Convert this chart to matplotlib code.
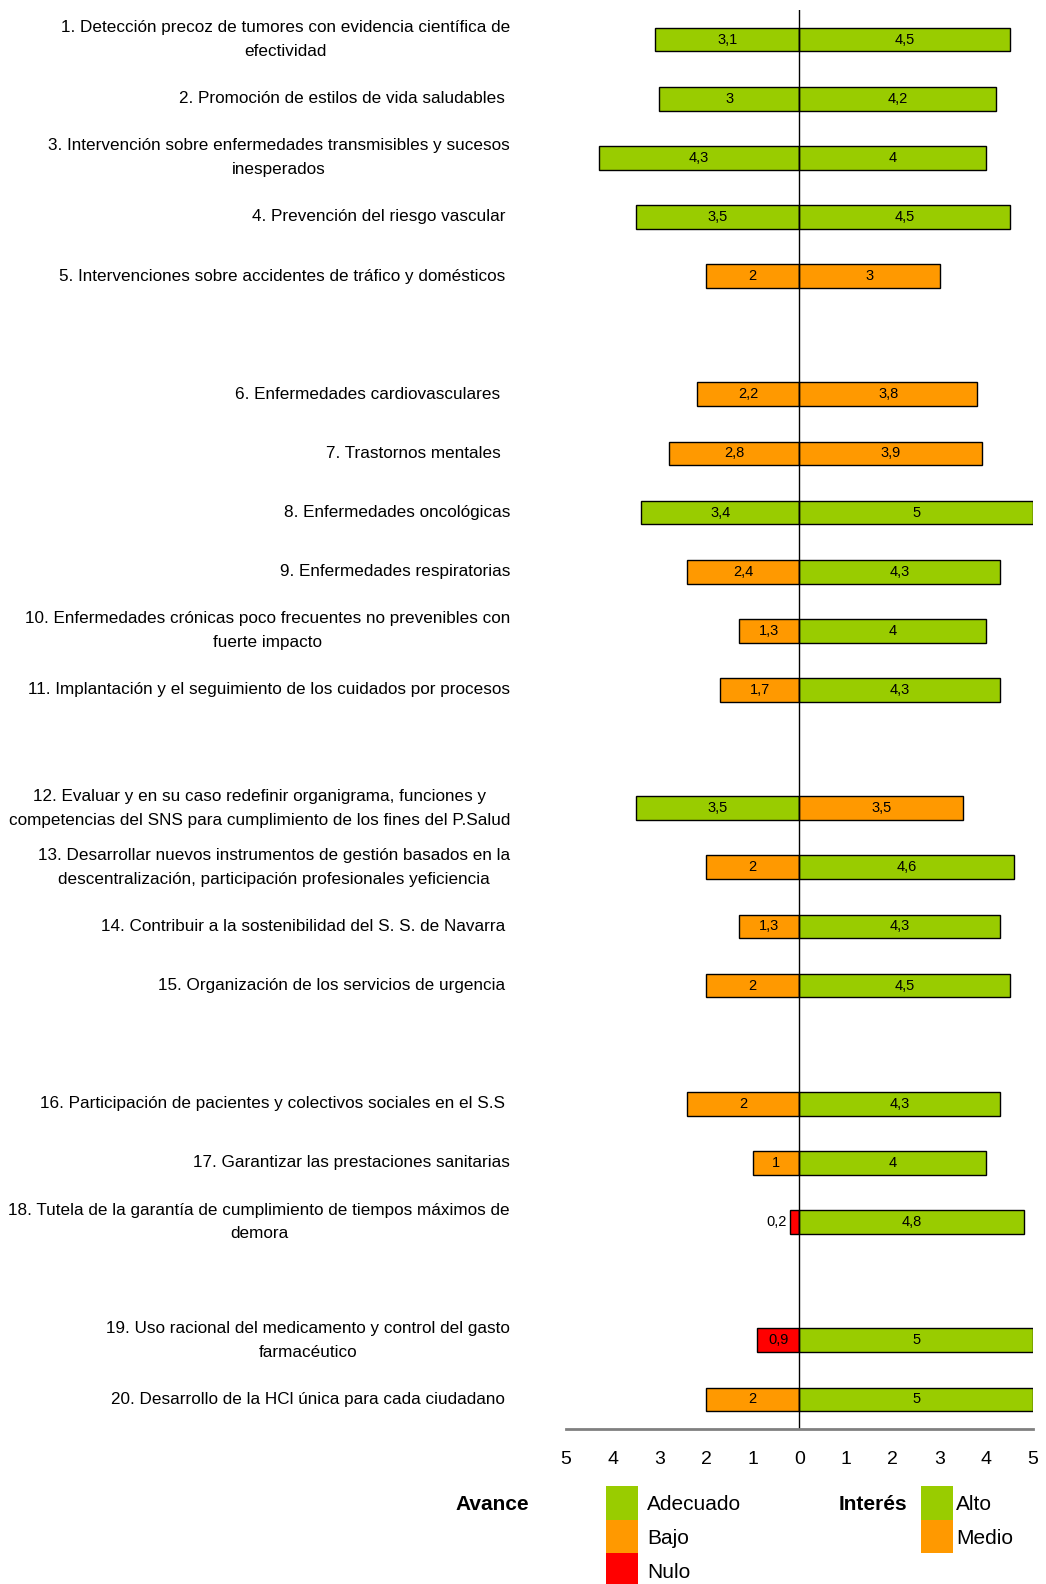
import numpy as np
import matplotlib
matplotlib.use("Agg")
import matplotlib.pyplot as plt
from matplotlib.patches import Rectangle
from matplotlib.transforms import blended_transform_factory

plt.rcParams['font.family'] = ['Liberation Sans', 'DejaVu Sans']

# Data
labels = [
    "1. Detección precoz de tumores con evidencia científica de\nefectividad",
    "2. Promoción de estilos de vida saludables ",
    "3. Intervención sobre enfermedades transmisibles y sucesos\ninesperados",
    "4. Prevención del riesgo vascular ",
    "5. Intervenciones sobre accidentes de tráfico y domésticos ",
    "6. Enfermedades cardiovasculares  ",
    "7. Trastornos mentales  ",
    "8. Enfermedades oncológicas",
    "9. Enfermedades respiratorias",
    "10. Enfermedades crónicas poco frecuentes no prevenibles con\nfuerte impacto",
    "11. Implantación y el seguimiento de los cuidados por procesos",
    "12. Evaluar y en su caso redefinir organigrama, funciones y\ncompetencias del SNS para cumplimiento de los fines del P.Salud",
    "13. Desarrollar nuevos instrumentos de gestión basados en la\ndescentralización, participación profesionales yeficiencia",
    "14. Contribuir a la sostenibilidad del S. S. de Navarra ",
    "15. Organización de los servicios de urgencia ",
    "16. Participación de pacientes y colectivos sociales en el S.S ",
    "17. Garantizar las prestaciones sanitarias",
    "18. Tutela de la garantía de cumplimiento de tiempos máximos de\ndemora",
    "19. Uso racional del medicamento y control del gasto\nfarmacéutico",
    "20. Desarrollo de la HCl única para cada ciudadano ",
]
rows = [0, 1, 2, 3, 4, 6, 7, 8, 9, 10, 11, 13, 14, 15, 16, 18, 19, 20, 22, 23]

avance = [3.1, 3, 4.3, 3.5, 2, 2.2, 2.8, 3.4, 2.4, 1.3, 1.7, 3.5, 2, 1.3, 2, 2.4, 1, 0.2, 0.9, 2]
avance_txt = ["3,1", "3", "4,3", "3,5", "2", "2,2", "2,8", "3,4", "2,4", "1,3",
              "1,7", "3,5", "2", "1,3", "2", "2", "1", "0,2", "0,9", "2"]
avance_level = ["Adecuado", "Adecuado", "Adecuado", "Adecuado", "Bajo", "Bajo", "Bajo",
                "Adecuado", "Bajo", "Bajo", "Bajo", "Adecuado", "Bajo", "Bajo", "Bajo",
                "Bajo", "Bajo", "Nulo", "Nulo", "Bajo"]

interes = [4.5, 4.2, 4, 4.5, 3, 3.8, 3.9, 5, 4.3, 4, 4.3, 3.5, 4.6, 4.3, 4.5, 4.3, 4, 4.8, 5, 5]
interes_level = ["Alto", "Alto", "Alto", "Alto", "Medio", "Medio", "Medio", "Alto", "Alto",
                 "Alto", "Alto", "Medio", "Alto", "Alto", "Alto", "Alto", "Alto", "Alto",
                 "Alto", "Alto"]

colors = {"Adecuado": "#99CC00", "Bajo": "#FF9900", "Nulo": "#FF0000",
          "Alto": "#99CC00", "Medio": "#FF9900"}

W, H = 1046, 1584
fig = plt.figure(figsize=(W / 100, H / 100), dpi=100)
ax = fig.add_axes([566 / W, 1 - 1429 / H, (1033 - 566) / W, (1429 - 10) / H])

# bars
for r, a, lvl in zip(rows, avance, avance_level):
    ax.barh(r, -a, height=0.4, color=colors[lvl], edgecolor='black', linewidth=1)
for r, v, lvl in zip(rows, interes, interes_level):
    ax.barh(r, v, height=0.4, color=colors[lvl], edgecolor='black', linewidth=1)

# bar value labels
for r, a, t in zip(rows, avance, avance_txt):
    if a < 0.5:
        ax.text(-a - 0.08, r, t, ha='right', va='center', fontsize=10.5)
    else:
        ax.text(-a / 2, r, t, ha='center', va='center', fontsize=10.5)
for r, v in zip(rows, interes):
    ax.text(v / 2, r, f"{v:g}".replace('.', ','), ha='center', va='center', fontsize=10.5)

ax.axvline(0, color='black', linewidth=1)
ax.set_xlim(-5, 5)
ax.set_ylim(23.5, -0.5)
ax.set_xticks(np.arange(-5, 6))
ax.set_xticklabels([str(abs(x)) for x in range(-5, 6)], fontsize=14)
ax.tick_params(axis='x', length=0, pad=16)
ax.set_yticks([])
for s in ['top', 'right', 'left']:
    ax.spines[s].set_visible(False)
ax.spines['bottom'].set_color('#808080')
ax.spines['bottom'].set_linewidth(2)

# category labels on the left
trans = blended_transform_factory(fig.transFigure, ax.transData)
for r, lab in zip(rows, labels):
    ax.text(510 / W, r, lab, transform=trans, ha='right', va='center',
            multialignment='center', fontsize=12.3, linespacing=1.72)

# legend
def fx(x):
    return x / W

def fy(y):
    return 1 - y / H

fig.text(fx(455), fy(1504), "Avance", fontsize=15, fontweight='bold', va='center')
for i, lvl in enumerate(["Adecuado", "Bajo", "Nulo"]):
    y0 = 1486 + i * 33.5
    fig.patches.append(Rectangle((fx(606), fy(y0 + 33.5)), 32 / W, 33.5 / H,
                                 transform=fig.transFigure, facecolor=colors[lvl],
                                 edgecolor='none'))
    fig.text(fx(647), fy(y0 + 19), lvl, fontsize=15, va='center')

fig.text(fx(839), fy(1504), "Interés", fontsize=15, fontweight='bold', va='center')
for i, lvl in enumerate(["Alto", "Medio"]):
    y0 = 1486 + i * 33.5
    fig.patches.append(Rectangle((fx(921), fy(y0 + 33.5)), 32 / W, 33.5 / H,
                                 transform=fig.transFigure, facecolor=colors[lvl],
                                 edgecolor='none'))
    fig.text(fx(956), fy(y0 + 19), lvl, fontsize=15, va='center')

fig.savefig("out.png", dpi=100)
